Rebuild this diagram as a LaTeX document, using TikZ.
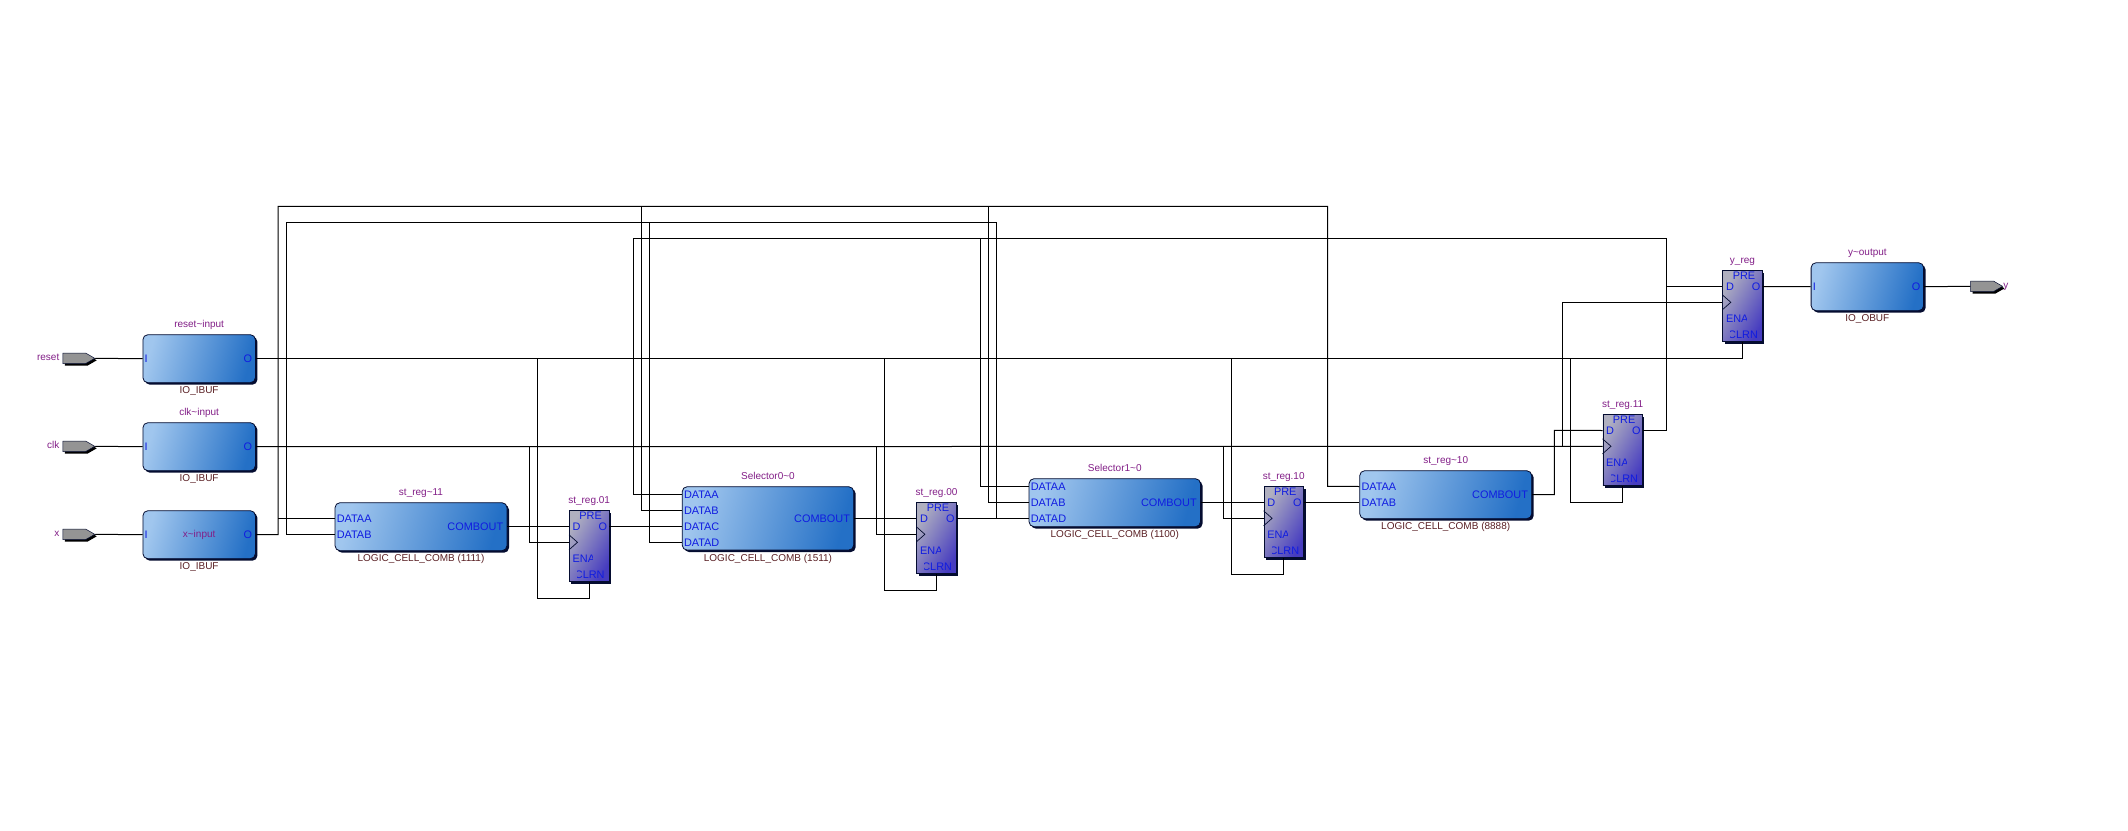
\documentclass[tikz,border=0pt]{standalone}
\usepackage{fontspec}
\setmainfont{Liberation Sans}
\usepackage{tikz}
\usetikzlibrary{positioning,shadows,shapes.symbols}
\definecolor{cellA}{RGB}{160,198,238}
\definecolor{cellB}{RGB}{36,112,198}
\definecolor{regA}{RGB}{176,176,192}
\definecolor{regB}{RGB}{70,60,192}
\definecolor{edgeC}{RGB}{4,12,48}
\definecolor{nameC}{RGB}{130,30,135}
\definecolor{typeC}{RGB}{90,32,36}
\definecolor{portC}{RGB}{16,28,225}
\tikzset{
	cell node/.style={anchor=north west,draw=edgeC,line width=.8pt,rounded corners=5pt,minimum height=48pt,inner sep=0pt,
		left color=cellA,right color=cellB,shading angle=75,general shadow={fill=edgeC,shadow xshift=2pt,shadow yshift=-2pt}},
	reg node/.style={anchor=north west,draw=edgeC,line width=.8pt,minimum width=39.5pt,minimum height=71pt,inner sep=0pt,
		left color=regA,right color=regB,shading angle=60,general shadow={fill=edgeC,shadow xshift=2pt,shadow yshift=-2pt}},
	pin node/.style={anchor=west,signal,signal to=east,signal pointer angle=60,draw=edgeC,line width=.5pt,fill=black!42,minimum width=32pt,minimum height=10.5pt,inner sep=0pt,
		general shadow={fill=black,shadow xshift=2pt,shadow yshift=-2pt}},
	name node/.style={inner sep=0pt,text height=7pt,text depth=2pt,text=nameC,font=\fontsize{10}{12}\selectfont},
	type node/.style={inner sep=0pt,text height=7.2pt,text depth=2pt,text=typeC,font=\fontsize{10}{12}\selectfont},
	port node/.style={inner ysep=0pt,inner xsep=2pt,text height=8pt,text depth=0pt,text=portC,font=\fontsize{10.9}{12}\selectfont},
	wire/.style={draw=black,line width=1pt},
}
\newcommand{\regcell}[4]{
	\node[reg node] (#1) at (#2,#3) {};
	\node[name node] (#1name) [above=4.5pt of #1] {#4};
	\node[port node,xshift=1.5pt] (#1pre) [below=1pt of #1.north] {PRE};
	\node[port node,inner xsep=3.5pt] (#1d) [below right=12pt and 0pt of #1.north west] {D};
	\node[port node] (#1o) [below left=12pt and 0pt of #1.north east] {O};
	\coordinate[below=32pt of #1.north west] (#1c);
	\draw[draw=edgeC,line width=.7pt] ([yshift=7.5pt]#1c) -- ([xshift=8.5pt]#1c) -- ([yshift=-7.5pt]#1c);
	\begin{scope}
		\clip (#1.north west) rectangle ([xshift=23.7pt]#1.south west);
		\node[port node,inner xsep=3.5pt] (#1ena) [below right=44pt and 0pt of #1.north west] {ENA};
	\end{scope}
	\begin{scope}
		\clip ([xshift=8.5pt]#1.north west) rectangle (#1.south east);
		\node[port node,inner xsep=4.5pt] (#1clr) [below left=60pt and 0pt of #1.north east] {CLRN};
	\end{scope}
}

\begin{document}
\begin{tikzpicture}[x=1pt,y=-1pt]
	\useasboundingbox (0,0) rectangle (2128,830);

	% input and output pins
	\node[pin node] (pinReset) at (62.5,358.3) {};
	\node[pin node] (pinClk) at (62.5,446.3) {};
	\node[pin node] (pinX) at (62.5,534.3) {};
	\node[pin node] (pinY) at (1970.3,286.3) {};
	\node[name node] (lblReset) [left=3pt of pinReset] {reset};
	\node[name node] (lblClk) [left=3pt of pinClk] {clk};
	\node[name node] (lblX) [left=3pt of pinX] {x};
	\node[name node] (lblY) [right=0pt of pinY] {y};

	% io buffers
	\node[cell node,minimum width=112.5pt] (bufReset) at (142.5,334.3) {};
	\node[name node] (bufResetName) [above=4.5pt of bufReset] {reset\textasciitilde input};
	\node[type node] (bufResetType) [below=3.3pt of bufReset] {IO\_IBUF};
	\node[port node] (bufResetI) [right=0pt of bufReset.west] {I};
	\node[port node,inner xsep=3.5pt] (bufResetO) [left=0pt of bufReset.east] {O};

	\node[cell node,minimum width=112.5pt] (bufClk) at (142.5,422.3) {};
	\node[name node] (bufClkName) [above=4.5pt of bufClk] {clk\textasciitilde input};
	\node[type node] (bufClkType) [below=3.3pt of bufClk] {IO\_IBUF};
	\node[port node] (bufClkI) [right=0pt of bufClk.west] {I};
	\node[port node,inner xsep=3.5pt] (bufClkO) [left=0pt of bufClk.east] {O};

	\node[cell node,minimum width=112.5pt] (bufX) at (142.5,510.3) {};
	\node[name node] (bufXName) at (bufX.center) {x\textasciitilde input};
	\node[type node] (bufXType) [below=3.3pt of bufX] {IO\_IBUF};
	\node[port node] (bufXI) [right=0pt of bufX.west] {I};
	\node[port node,inner xsep=3.5pt] (bufXO) [left=0pt of bufX.east] {O};

	\node[cell node,minimum width=112.5pt] (bufY) at (1810.7,262.3) {};
	\node[name node] (bufYName) [above=4.5pt of bufY] {y\textasciitilde output};
	\node[type node] (bufYType) [below=3.3pt of bufY] {IO\_OBUF};
	\node[port node] (bufYI) [right=0pt of bufY.west] {I};
	\node[port node,inner xsep=3.5pt] (bufYO) [left=0pt of bufY.east] {O};

	% logic cells
	\node[cell node,minimum width=172pt] (lc11) at (334.6,502.3) {};
	\node[name node] (lc11name) [above=4.5pt of lc11] {st\_reg\textasciitilde 11};
	\node[type node] (lc11type) [below=3.3pt of lc11] {LOGIC\_CELL\_COMB (1111)};
	\node[port node] (lc11a) [below right=12pt and 0pt of lc11.north west] {DATAA};
	\node[port node] (lc11b) [below right=28pt and 0pt of lc11.north west] {DATAB};
	\node[port node,inner xsep=4pt] (lc11x) [below left=20pt and 0pt of lc11.north east] {COMBOUT};

	\node[cell node,minimum width=171.5pt,minimum height=63.4pt] (sel0) at (681.8,486.3) {};
	\node[name node] (sel0name) [above=4.5pt of sel0] {Selector0\textasciitilde 0};
	\node[type node] (sel0type) [below=3.3pt of sel0] {LOGIC\_CELL\_COMB (1511)};
	\node[port node] (sel0a) [below right=4pt and 0pt of sel0.north west] {DATAA};
	\node[port node] (sel0b) [below right=20pt and 0pt of sel0.north west] {DATAB};
	\node[port node] (sel0c) [below right=36pt and 0pt of sel0.north west] {DATAC};
	\node[port node] (sel0d) [below right=52pt and 0pt of sel0.north west] {DATAD};
	\node[port node,inner xsep=4pt] (sel0x) [below left=28pt and 0pt of sel0.north east] {COMBOUT};

	\node[cell node,minimum width=171.5pt] (sel1) at (1028.6,478.3) {};
	\node[name node] (sel1name) [above=4.5pt of sel1] {Selector1\textasciitilde 0};
	\node[type node] (sel1type) [below=3.3pt of sel1] {LOGIC\_CELL\_COMB (1100)};
	\node[port node] (sel1a) [below right=4pt and 0pt of sel1.north west] {DATAA};
	\node[port node] (sel1b) [below right=20pt and 0pt of sel1.north west] {DATAB};
	\node[port node] (sel1d) [below right=36pt and 0pt of sel1.north west] {DATAD};
	\node[port node,inner xsep=4pt] (sel1x) [below left=20pt and 0pt of sel1.north east] {COMBOUT};

	\node[cell node,minimum width=172pt] (lc10) at (1359.3,470.3) {};
	\node[name node] (lc10name) [above=4.5pt of lc10] {st\_reg\textasciitilde 10};
	\node[type node] (lc10type) [below=3.3pt of lc10] {LOGIC\_CELL\_COMB (8888)};
	\node[port node] (lc10a) [below right=12pt and 0pt of lc10.north west] {DATAA};
	\node[port node] (lc10b) [below right=28pt and 0pt of lc10.north west] {DATAB};
	\node[port node,inner xsep=4pt] (lc10x) [below left=20pt and 0pt of lc10.north east] {COMBOUT};

	% registers
	\regcell{st01}{569}{510.3}{st\_reg.01}
	\regcell{st00}{916.4}{502.3}{st\_reg.00}
	\regcell{st10}{1263.6}{486.3}{st\_reg.10}
	\regcell{st11}{1602.5}{414.3}{st\_reg.11}
	\regcell{yreg}{1722.3}{270.3}{y\_reg}

	% long runs of the nets
	\coordinate (railA) at (278.2,206.3);
	\coordinate (railB) at (286.4,222.3);
	\coordinate (railC) at (633.2,238.3);
	\coordinate (railD) at (1666.3,238.3);
	\coordinate (tapA) at (1327.5,486.3);
	\coordinate (tapB) at (996.4,518.3);
	\coordinate (tapC) at (980.4,238.3);
	\coordinate (tapD) at (641.4,206.3);
	\coordinate (tapE) at (988.2,206.3);
	\coordinate (tapF) at (649.3,222.3);
	\coordinate (tapG) at (1554.3,430.3);
	\coordinate (clkA) at (529.3,446.3);
	\coordinate (clkB) at (876.4,446.3);
	\coordinate (clkC) at (1223.2,446.3);
	\coordinate (clkD) at (1562.5,446.3);
	\coordinate (clrA) at (537.5,598.3);
	\coordinate (clrB) at (884.3,590.3);
	\coordinate (clrC) at (1231.4,574.3);
	\coordinate (clrD) at (1570.4,502.3);

	\path[draw,wire]
	(pinReset.east) edge (bufReset.west)
	(pinClk.east) edge (bufClk.west)
	(pinX.east) edge (bufX.west)
	(yrego.east) edge (bufY.west)
	(bufY.east) edge (pinY.west)
	(bufClk.east) edge (st11c)
	(lc11x.east) edge (st01d.west)
	(st01o.east) edge (sel0c.west)
	(sel0x.east) edge (st00d.west)
	(st00o.east) edge (sel1d.west)
	(sel1x.east) edge (st10d.west)
	(st10o.east) edge (lc10b.west)
	;

	\draw[wire] (bufReset.east) -| (yreg.south);
	\draw[wire] (bufX.east) -| (railA) -| (tapA) -- (lc10a.west);
	\draw[wire] (lc11a.west) -- (lc11a.west -| railA);
	\draw[wire] (lc11b.west) -| (railB) -| (tapB);
	\draw[wire] (st11o.east) -| (railD) -- (railC) |- (sel0a.west);
	\draw[wire] (yregd.west) -| (railD);
	\draw[wire] (sel1a.west) -| (tapC);
	\draw[wire] (sel0b.west) -| (tapD);
	\draw[wire] (sel1b.west) -| (tapE);
	\draw[wire] (sel0d.west) -| (tapF);
	\draw[wire] (lc10x.east) -| (tapG) -- (st11d.west);

	\draw[wire] (st01c) -| (clkA);
	\draw[wire] (st00c) -| (clkB);
	\draw[wire] (st10c) -| (clkC);
	\draw[wire] (yregc) -| (clkD);

	\draw[wire] (st01.south) |- (clrA) -- (clrA |- bufReset.east);
	\draw[wire] (st00.south) |- (clrB) -- (clrB |- bufReset.east);
	\draw[wire] (st10.south) |- (clrC) -- (clrC |- bufReset.east);
	\draw[wire] (st11.south) |- (clrD) -- (clrD |- bufReset.east);
\end{tikzpicture}
\end{document}
